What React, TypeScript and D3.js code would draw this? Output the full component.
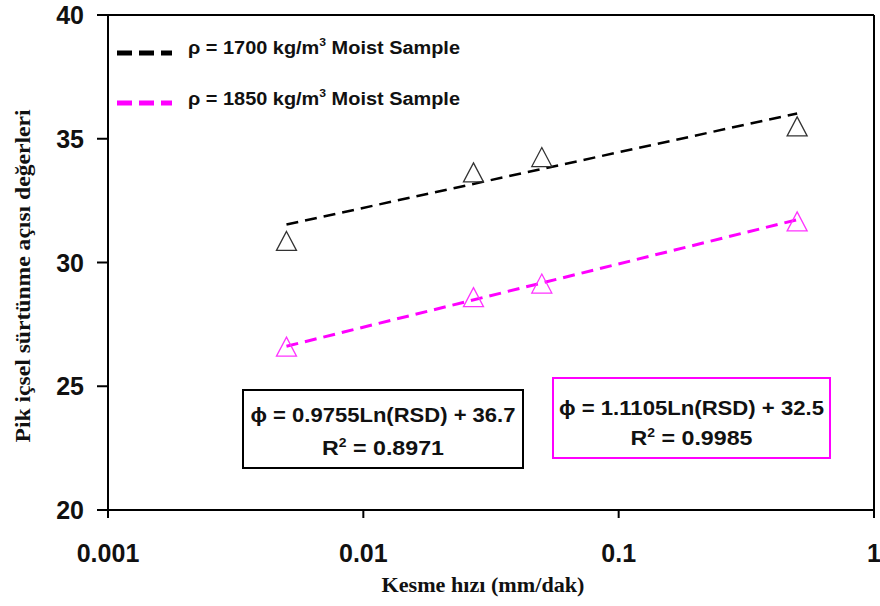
import React from "react";
import * as d3 from "d3";

const xTicks = [0.001, 0.01, 0.1, 1];
const xTickLabels = ["0.001", "0.01", "0.1", "1"];
const yTicks = [20, 25, 30, 35, 40];

const rsd = [0.005, 0.027, 0.05, 0.5];
const phi1700 = [30.87, 33.64, 34.26, 35.5];
const phi1850 = [26.6, 28.6, 29.15, 31.66];

const seriesNames = ["1700", "1850"];
const seriesColors = ["#000000", "#ff00ff"];
const markerColors = ["#333333", "#ff33ff"];
// trendline coefficients (a*ln(x)+b)
const trendA = [0.9755, 1.1105];
const trendB = [36.7, 32.5];
const trendR2 = ["0.8971", "0.9985"];
const trendRange = [0.005, 0.5];

const W = 880, H = 606;
const x = d3.scaleLog().domain([0.001, 1]).range([108, 874]);
const y = d3.scaleLinear().domain([20, 40]).range([510, 15]);

function tri(cx: number, cy: number, w = 20, h = 19) {
  return `M${cx},${cy - h / 2}L${cx + w / 2},${cy + h / 2}L${cx - w / 2},${cy + h / 2}Z`;
}

export default function App() {
  const data = [phi1700, phi1850];
  const trendPts = (k: number) =>
    trendRange.map((v) => [x(v), y(trendA[k] * Math.log(v) + trendB[k])] as [number, number]);
  const lineGen = d3.line<[number, number]>();
  const sans = "'Liberation Sans', Arial, sans-serif";
  const serif = "'Liberation Serif', 'Times New Roman', serif";
  const boxes = [
    { x0: 243, y0: 390, x1: 523, y1: 468, l1: 422, l2: 455 },
    { x0: 553, y0: 378, x1: 830, y1: 458, l1: 415, l2: 445 },
  ];
  return (
    <svg width={W} height={H} style={{ position: "absolute", left: 0, top: 0, background: "#fff" }}>
      <rect x={0} y={0} width={W} height={H} fill="#fff" />
      {/* frame */}
      <line x1={97} y1={y(40)} x2={x(1)} y2={y(40)} stroke="#000" strokeWidth={2} />
      <line x1={x(1)} y1={y(40)} x2={x(1)} y2={y(20) + 8} stroke="#000" strokeWidth={2} />
      <line x1={x(0.001)} y1={y(40)} x2={x(0.001)} y2={y(20) + 8} stroke="#000" strokeWidth={2} />
      <line x1={97} y1={y(20)} x2={x(1)} y2={y(20)} stroke="#000" strokeWidth={2} />
      {yTicks.map((t) => (
        <g key={t}>
          <line x1={97} x2={x(0.001)} y1={y(t)} y2={y(t)} stroke="#000" strokeWidth={2} />
          <text x={84} y={y(t) + 9} textAnchor="end" fontFamily={sans} fontWeight="bold" fontSize={25} fill="#111">
            {t}
          </text>
        </g>
      ))}
      {xTicks.map((t, i) => (
        <g key={t}>
          <line x1={x(t)} x2={x(t)} y1={y(20)} y2={y(20) + 8} stroke="#000" strokeWidth={2} />
          <text x={x(t)} y={562} textAnchor="middle" fontFamily={sans} fontWeight="bold" fontSize={25} fill="#111">
            {xTickLabels[i]}
          </text>
        </g>
      ))}
      {/* trendlines */}
      {[0, 1].map((k) => (
        <path
          key={"t" + k}
          d={lineGen(trendPts(k)) || ""}
          fill="none"
          stroke={seriesColors[k]}
          strokeWidth={k === 0 ? 2.5 : 3}
          strokeDasharray="12,7"
        />
      ))}
      {/* markers */}
      {data.map((s, k) =>
        s.map((v, i) => (
          <path key={k + "-" + i} d={tri(x(rsd[i]), y(v))} fill="none" stroke={markerColors[k]} strokeWidth={1.3} />
        ))
      )}
      {/* legend */}
      {[0, 1].map((k) => (
        <g key={"lg" + k}>
          <line x1={117} x2={172} y1={53 + k * 50} y2={53 + k * 50} stroke={seriesColors[k]} strokeWidth={5} strokeDasharray="15,7" />
          <text x={188} y={54 + k * 51} fontFamily={sans} fontWeight="bold" fontSize={18} fill="#111" textLength={272} lengthAdjust="spacingAndGlyphs">
            ρ = {seriesNames[k]} kg/m
            <tspan dy={-8} fontSize={11}>3</tspan>
            <tspan dy={8}> Moist Sample</tspan>
          </text>
        </g>
      ))}
      {/* equation boxes */}
      {boxes.map((b, k) => (
        <g key={"b" + k}>
          <rect x={b.x0} y={b.y0} width={b.x1 - b.x0} height={b.y1 - b.y0} fill="#fff" stroke={seriesColors[k]} strokeWidth={2} />
          <text x={(b.x0 + b.x1) / 2} y={b.l1} textAnchor="middle" fontFamily={sans} fontWeight="bold" fontSize={20} fill="#111" textLength={265} lengthAdjust="spacingAndGlyphs">
            ϕ = {trendA[k].toFixed(4)}Ln(RSD) + {trendB[k].toFixed(1)}
          </text>
          <text x={(b.x0 + b.x1) / 2} y={b.l2} textAnchor="middle" fontFamily={sans} fontWeight="bold" fontSize={20} fill="#111" textLength={122} lengthAdjust="spacingAndGlyphs">
            R<tspan dy={-8} fontSize={12}>2</tspan>
            <tspan dy={8}> = {trendR2[k]}</tspan>
          </text>
        </g>
      ))}
      {/* axis titles */}
      <text x={483} y={592} textAnchor="middle" fontFamily={serif} fontWeight="bold" fontSize={21} fill="#111" textLength={203} lengthAdjust="spacingAndGlyphs">
        Kesme hızı (mm/dak)
      </text>
      <text
        transform={`translate(30,276) rotate(-90)`}
        textAnchor="middle"
        fontFamily={serif}
        fontWeight="bold"
        fontSize={22}
        fill="#111"
        textLength={333}
        lengthAdjust="spacingAndGlyphs"
      >
        Pik içsel sürtünme açısı değerleri
      </text>
    </svg>
  );
}
